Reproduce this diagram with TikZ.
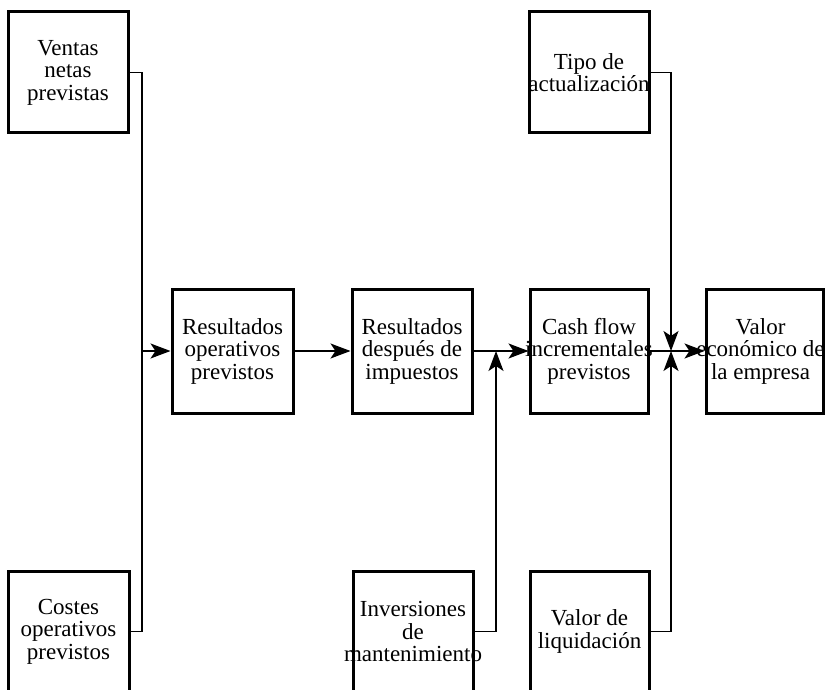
\documentclass[tikz,border=0pt]{standalone}
\usepackage{fontspec}
\setmainfont{Liberation Serif}
\usetikzlibrary{arrows.meta}

\begin{document}
\begin{tikzpicture}[x=1pt,y=-1pt,
  % fixed-size frames; the caption is laid over them and may overhang the border
  box/.style={draw, line width=3pt, rectangle, inner sep=0pt},
  caption/.style={align=center, inner sep=0pt, font=\fontsize{23}{22.5}\selectfont},
  topbox/.style={box, minimum width=120pt, minimum height=121pt},
  midbox/.style={box, minimum height=124pt},
  link/.style={line width=1.4pt},
  flow/.style={link, -{Stealth[length=20pt,width=15pt,inset=5pt]}}]
\useasboundingbox (0,0) rectangle (825,690);
\clip (0,0) rectangle (825,690);

% input boxes, upper and lower rows (the lower ones run off the page)
\node[topbox, label={[caption]center:Ventas\\netas\\previstas}] (ventas) at (68,72.5) {};
\node[topbox, minimum width=121pt, label={[caption]center:Costes\\operativos\\previstos}] (costes) at (68.5,631.5) {};
\node[topbox, label={[caption]center:Tipo de\\actualización}] (tipo) at (589,72.5) {};
\node[topbox, label={[caption]center:Inversiones\\de\\mantenimiento}] (inv) at (413,631.5) {};
\node[topbox, minimum width=119pt, label={[caption]center:Valor de\\liquidación}] (liq) at (589.5,631.5) {};

% main chain
\node[midbox, minimum width=121pt, label={[caption]center:Resultados\\operativos\\previstos}] (opres) at (232.5,351) {};
\node[midbox, minimum width=120pt, label={[caption]center:Resultados\\después de\\impuestos}] (desp) at (412,351) {};
\node[midbox, minimum width=118pt, label={[caption]center:Cash flow\\incrementales\\previstos}] (cash) at (589,351) {};
\node[midbox, minimum width=117pt, label={[caption, xshift=-4pt]center:Valor\\económico de\\la empresa}] (valor) at (764.5,351) {};

% junction points on the flow line
\coordinate (j1) at (142,351);
\coordinate (j2) at (496,351);
\coordinate (j3) at (671,351);
% points where the feeder lines turn into arrows
\coordinate (j2b) at (496,420);
\coordinate (j3t) at (671,290);
\coordinate (j3b) at (671,412);

% sales and costs feed operating results
\draw[link] (ventas.east) -| (j1);
\draw[link] (costes.east) -| (j1);
\draw[flow] (j1) -- (opres.west);

\draw[flow] (opres.east) -- (desp.west);
\draw[flow] (desp.east) -- (cash.west);

% maintenance investment joins after taxes
\draw[link] (inv.east) -| (j2b);
\draw[flow] (j2b) -- (j2);

% discount rate and liquidation value join before the firm value
\draw[flow] (cash.east) -- (valor.west);
\draw[link] (tipo.east) -| (j3t);
\draw[flow] (j3t) -- (j3);
\draw[link] (liq.east) -| (j3b);
\draw[flow] (j3b) -- (j3);
\end{tikzpicture}
\end{document}
